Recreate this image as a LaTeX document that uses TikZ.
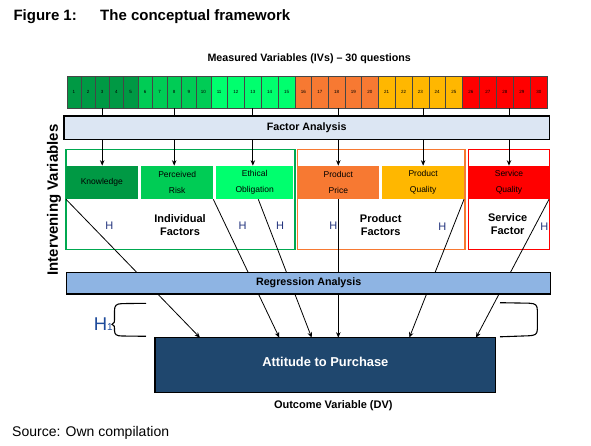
\documentclass[tikz,border=0pt]{standalone}
\usepackage{fontspec}
\setmainfont{Liberation Sans}
\usetikzlibrary{arrows.meta}
\definecolor{gA}{RGB}{0,153,68}
\definecolor{gB}{RGB}{0,204,85}
\definecolor{gC}{RGB}{0,255,110}
\definecolor{gD}{RGB}{247,121,50}
\definecolor{gE}{RGB}{255,183,0}
\definecolor{gF}{RGB}{255,0,0}
\definecolor{grpG}{RGB}{0,168,80}
\definecolor{faFill}{RGB}{220,230,243}
\definecolor{raFill}{RGB}{142,180,227}
\definecolor{atFill}{RGB}{31,71,110}
\definecolor{hNavy}{RGB}{35,52,125}
\definecolor{hBlue}{RGB}{30,75,155}
\definecolor{cellLine}{RGB}{70,70,70}
\begin{document}
\begin{tikzpicture}[x=1pt,y=-1pt,
  cell/.style={draw=cellLine,line width=0.4pt,inner sep=0pt,outer sep=0pt,minimum height=32.3pt,font=\fontsize{4.5}{5}\selectfont},
  ibox/.style={inner sep=0pt,outer sep=0pt,minimum height=33.6pt,anchor=north west,align=center,font=\fontsize{8.5}{15.7}\selectfont},
  gbox/.style={draw,line width=1.4pt,inner sep=0pt,outer sep=0pt,minimum height=100pt,anchor=north west},
  glabel/.style={align=center,inner sep=0pt,font=\fontsize{11}{12.6}\selectfont\bfseries},
  hh/.style={inner sep=0pt,text=hNavy,font=\fontsize{11}{12}\selectfont},
  arr/.style={line width=0.8pt,-{Stealth[length=5.5pt,width=4.5pt]}},
  band/.style={draw=black,line width=1.5pt,inner sep=0pt,outer sep=0pt,anchor=north west,font=\fontsize{10.7}{12}\selectfont\bfseries}
]
\useasboundingbox (0,0) rectangle (591,446);

% title
\node[anchor=base west,inner sep=0pt,font=\fontsize{15}{18}\selectfont\bfseries] (fig) at (13.3,21) {Figure 1:};
\node[anchor=base west,inner sep=0pt,font=\fontsize{15}{18}\selectfont\bfseries] (tit) at (100,21) {The conceptual framework};
\node[anchor=base,inner sep=0pt,font=\fontsize{10.7}{12}\selectfont\bfseries] (mv) at (309.2,61.8) {Measured Variables (IVs) -- 30 questions};

% question cells
\foreach \g/\xs/\xe/\col in {0/66.7/137.7/gA,1/137.7/210.7/gB,2/210.7/295/gC,3/295/378.3/gD,4/378.3/462.3/gE,5/462.3/547.3/gF}{
  \foreach \k in {1,...,5}{
    \pgfmathsetmacro\w{(\xe-\xs)/5}
    \pgfmathtruncatemacro\n{\g*5+\k}
    \node[cell,fill=\col,minimum width=\w pt,anchor=north west] (c\n) at ({\xs+(\k-1)*\w},76) {\n};
  }
}

% intervening label
\node[rotate=90,inner sep=0pt,font=\fontsize{15}{18}\selectfont\bfseries] (iv) at (54,200) {Intervening Variables};

% group boxes
\node[gbox,draw=grpG,minimum width=229pt] (ind) at (66,149.3) {};
\node[gbox,draw=gD,minimum width=167.7pt] (prod) at (297.3,149.3) {};
\node[gbox,draw=gF,minimum width=81pt] (serv) at (468.3,149.3) {};

% inner boxes
\node[ibox,fill=gA,minimum width=71.7pt] (kn) at (66,165.7) {Knowledge};
\node[ibox,fill=gB,minimum width=72.3pt] (pr) at (141,165.7) {Perceived\\Risk};
\node[ibox,fill=gC,minimum width=77.3pt] (eo) at (216,165.7) {Ethical\\Obligation};
\node[ibox,fill=gD,minimum width=82pt] (pp) at (297.3,165.7) {Product\\Price};
\node[ibox,fill=gE,minimum width=81.7pt] (pq) at (382.3,165.7) {Product\\Quality};
\node[ibox,fill=gF,minimum width=80pt] (sq) at (469,165.7) {Service\\Quality};

% group labels
\node[glabel] (indl) at (180,225) {Individual\\Factors};
\node[glabel] (prodl) at (380.7,225) {Product\\Factors};
\node[glabel] (servl) at (507.7,224) {Service\\Factor};

% H marks
\node[hh] (h1) at (109.3,226) {H};
\node[hh] (h2) at (242.7,226) {H};
\node[hh] (h3) at (280,226) {H};
\node[hh] (h4) at (333.3,226) {H};
\node[hh] (h5) at (442.3,227) {H};
\node[hh] (h6) at (544.3,227) {H};

% outcome box
\node[draw=black,line width=1.5pt,fill=atFill,text=white,inner sep=0pt,outer sep=0pt,
  minimum width=340.7pt,minimum height=55pt,text depth=7pt,anchor=north west,
  font=\fontsize{12.9}{14}\selectfont\bfseries] (att) at (155,337.7) {Attitude to Purchase};

% connectors from questions
\draw[arr] (c3.south) -- (c3.south |- kn.north);
\draw[arr] (c8.south) -- (c8.south |- pr.north);
\draw[arr] (c13.south) -- (c13.south |- eo.north);
\draw[arr] (pp.north |- c18.south) -- (pp.north);
\draw[arr] (pq.north |- c23.south) -- (pq.north);
\draw[arr] (sq.north |- c28.south) -- (sq.north);

% connectors to outcome
\coordinate (e3) at (258.3,199.3);
\coordinate (a1) at (200,337.7);
\coordinate (a2) at (279.3,337.7);
\coordinate (a3) at (311.7,337.7);
\coordinate (a5) at (409.3,337.7);
\coordinate (a6) at (476,337.7);
\draw[arr] (kn.south west) -- (a1);
\draw[arr] (pr.south east) -- (a2);
\draw[arr] (e3) -- (a3);
\draw[arr] (pp.south) -- (pp.south |- att.north);
\draw[arr] (pq.south east) -- (a5);
\draw[arr] (sq.south east) -- (a6);

% analysis bands
\node[band,fill=faFill,minimum width=485.3pt,minimum height=23.3pt] (fa) at (64,116) {Factor Analysis};
\node[band,fill=raFill,minimum width=484pt,minimum height=21.7pt] (ra) at (66.7,272.3) {Regression Analysis};

% H1 and brackets
\node[anchor=base west,inner sep=0pt,text=hBlue,font=\fontsize{18.5}{20}\selectfont] (hone) at (93.6,330.7) {H{\fontsize{10}{10}\selectfont 1}};
\draw[line width=1.1pt] (146,303.3) -- (122,303.6) .. controls (116,303.8) and (114.5,305.5) .. (114.5,311) -- (114.5,320)
  .. controls (114.5,322.5) .. (112,324.3) .. controls (114.5,326) .. (114.5,328.5) -- (114.5,330.5)
  .. controls (114.5,334.5) and (116.5,336) .. (122,336) -- (146,336.3);
\draw[line width=1.1pt] (500,302.7) -- (529,303.2) .. controls (535.5,303.4) and (537.3,305) .. (537.3,310) -- (537.3,329.5)
  .. controls (537.3,334.5) and (535,335.5) .. (528,335.8) -- (500,336.8);

% bottom texts
\node[inner sep=0pt,font=\fontsize{11}{12}\selectfont\bfseries] (ov) at (333.3,406) {Outcome Variable (DV)};
\node[anchor=base west,inner sep=0pt,font=\fontsize{14}{16}\selectfont] (src) at (12,436.5) {Source: Own compilation};
\end{tikzpicture}
\end{document}
